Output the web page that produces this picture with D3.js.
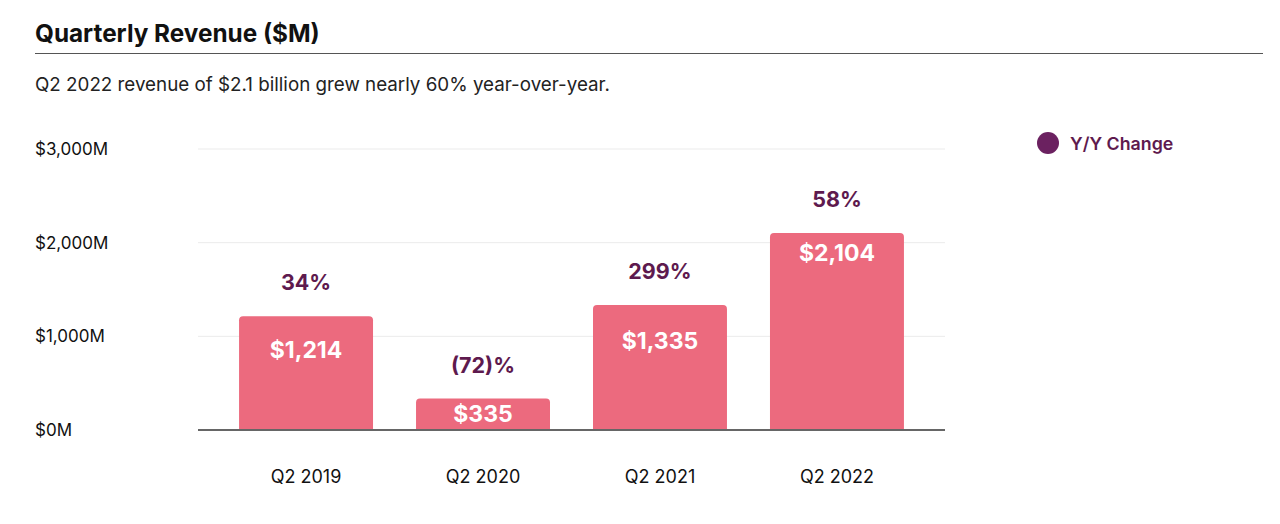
<!DOCTYPE html>
<html>
<head>
<meta charset="utf-8">
<script src="https://cdn.jsdelivr.net/npm/d3@7"></script>
<style>
  body { margin: 0; background: #fff; font-family: Inter, "Open Sans", sans-serif; }
</style>
</head>
<body>
<div id="chart"></div>
<script>
// data
var quarters = ["Q2 2019", "Q2 2020", "Q2 2021", "Q2 2022"];
var revenue = [1214, 335, 1335, 2104];
var yoyChange = ["34%", "(72)%", "299%", "58%"];
var yTicks = [0, 1000, 2000, 3000];

// where the value label sits below the bar top (px)
var valueLabelDy = [34, 15, 36, 20];

var W = 1280, H = 524;
var svg = d3.select("#chart").append("svg")
    .attr("width", W).attr("height", H);

// header
svg.append("text").attr("x", 35).attr("y", 42)
    .style("font-size", "24.3px").style("font-weight", 700).attr("fill", "#111")
    .text("Quarterly Revenue ($M)");
svg.append("line").attr("x1", 35).attr("x2", 1263).attr("y1", 53.5).attr("y2", 53.5)
    .attr("stroke", "#555").attr("stroke-width", 1);
svg.append("text").attr("x", 35).attr("y", 91)
    .style("font-size", "18.8px").attr("fill", "#222")
    .text("Q2 2022 revenue of $2.1 billion grew nearly 60% year-over-year.");

var x = d3.scaleBand()
    .domain(quarters)
    .range([198, 945])
    .paddingInner(0.243)
    .paddingOuter(0.232);

var y = d3.scaleLinear()
    .domain([0, 3000])
    .range([430, 149]);

// grid
svg.append("g").selectAll("line")
    .data(yTicks.slice(1))
    .enter().append("line")
    .attr("x1", 198).attr("x2", 945)
    .attr("y1", function (d) { return y(d); })
    .attr("y2", function (d) { return y(d); })
    .attr("stroke", "#ebebeb").attr("stroke-width", 1);

// y labels
svg.append("g").selectAll("text")
    .data(yTicks)
    .enter().append("text")
    .attr("x", 35)
    .attr("y", function (d) { return y(d) + 6; })
    .style("font-size", "17px").attr("fill", "#111")
    .text(function (d) { return "$" + d3.format(",")(d) + "M"; });

// bars, rounded top corners
var r = 4;
svg.append("g").selectAll("path")
    .data(revenue)
    .enter().append("path")
    .attr("fill", "#ec6a7e")
    .attr("d", function (d, i) {
        var x0 = x(quarters[i]), w = x.bandwidth(), y0 = y(d), yb = y(0);
        return "M" + x0 + "," + yb +
            "V" + (y0 + r) +
            "Q" + x0 + "," + y0 + " " + (x0 + r) + "," + y0 +
            "H" + (x0 + w - r) +
            "Q" + (x0 + w) + "," + y0 + " " + (x0 + w) + "," + (y0 + r) +
            "V" + yb + "Z";
    });

// baseline
svg.append("line").attr("x1", 198).attr("x2", 945)
    .attr("y1", y(0)).attr("y2", y(0))
    .attr("stroke", "#666").attr("stroke-width", 2);

// value labels
svg.append("g").selectAll("text")
    .data(revenue)
    .enter().append("text")
    .attr("x", function (d, i) { return x(quarters[i]) + x.bandwidth() / 2; })
    .attr("y", function (d, i) { return y(d) + valueLabelDy[i] + 8; })
    .attr("text-anchor", "middle")
    .style("font-size", "23px").style("font-weight", 700).attr("fill", "#fff")
    .text(function (d) { return "$" + d3.format(",")(d); });

// y/y change labels
svg.append("g").selectAll("text")
    .data(yoyChange)
    .enter().append("text")
    .attr("x", function (d, i) { return x(quarters[i]) + x.bandwidth() / 2; })
    .attr("y", function (d, i) { return y(revenue[i]) - 26; })
    .attr("text-anchor", "middle")
    .style("font-size", "21.5px").style("font-weight", 700).attr("fill", "#5e1a4e")
    .text(function (d) { return d; });

// x labels
svg.append("g").selectAll("text")
    .data(quarters)
    .enter().append("text")
    .attr("x", function (d) { return x(d) + x.bandwidth() / 2; })
    .attr("y", 483)
    .attr("text-anchor", "middle")
    .style("font-size", "18px").attr("fill", "#111")
    .text(function (d) { return d; });

// legend
svg.append("circle").attr("cx", 1048).attr("cy", 143).attr("r", 11)
    .attr("fill", "#6b2160");
svg.append("text").attr("x", 1070).attr("y", 149.5)
    .style("font-size", "17.8px").style("font-weight", 600).attr("fill", "#5e1a4e")
    .text("Y/Y Change");
</script>
</body>
</html>
